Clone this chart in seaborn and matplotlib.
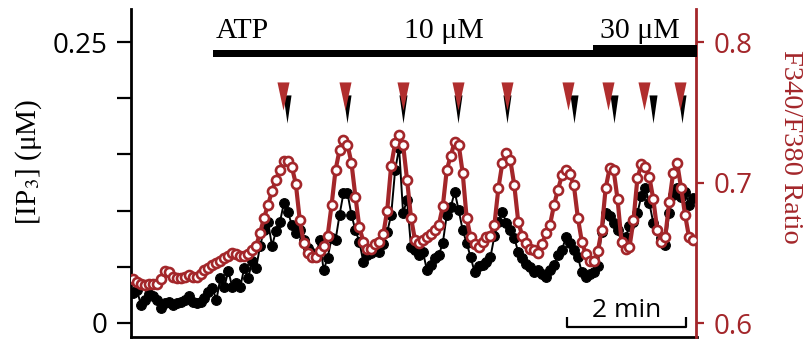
import numpy as np
import pandas as pd
import matplotlib
matplotlib.use("Agg")
import matplotlib.pyplot as plt
import seaborn as sns
from matplotlib.patches import Rectangle

# ---------------- data ----------------
dt_s = 4.0
ratio_f340_f380 = [
    0.631, 0.629, 0.628, 0.627, 0.628, 0.628, 0.628, 0.631, 0.637, 0.636,
    0.633, 0.632, 0.632, 0.633, 0.634, 0.633, 0.633, 0.635, 0.638, 0.639,
    0.641, 0.643, 0.644, 0.646, 0.648, 0.650, 0.649, 0.648, 0.648, 0.649,
    0.652, 0.655, 0.664, 0.675, 0.684, 0.694, 0.702, 0.709, 0.715, 0.715,
    0.711, 0.699, 0.673, 0.657, 0.650, 0.647, 0.647, 0.651, 0.655, 0.662,
    0.684, 0.709, 0.723, 0.730, 0.727, 0.714, 0.690, 0.668, 0.658, 0.653,
    0.653, 0.656, 0.658, 0.663, 0.680, 0.712, 0.728, 0.734, 0.727, 0.702,
    0.675, 0.659, 0.657, 0.659, 0.661, 0.663, 0.666, 0.670, 0.683, 0.709,
    0.719, 0.729, 0.727, 0.707, 0.675, 0.661, 0.656, 0.654, 0.658, 0.661,
    0.662, 0.670, 0.696, 0.714, 0.721, 0.716, 0.698, 0.672, 0.662, 0.657,
    0.653, 0.652, 0.650, 0.656, 0.664, 0.670, 0.684, 0.695, 0.705, 0.709,
    0.706, 0.698, 0.675, 0.658, 0.649, 0.644, 0.644, 0.651, 0.666, 0.696,
    0.710, 0.709, 0.688, 0.658, 0.653, 0.654, 0.673, 0.703, 0.713, 0.711,
    0.704, 0.688, 0.666, 0.658, 0.661, 0.686, 0.707, 0.714, 0.696, 0.677,
    0.661, 0.659,
]
ip3_uM = [
    0.0267, 0.0294, 0.0160, 0.0205, 0.0258, 0.0240, 0.0205, 0.0133, 0.0178, 0.0187,
    0.0160, 0.0178, 0.0187, 0.0205, 0.0240, 0.0187, 0.0178, 0.0187, 0.0222, 0.0276,
    0.0311, 0.0205, 0.0400, 0.0320, 0.0463, 0.0320, 0.0356, 0.0320, 0.0489, 0.0400,
    0.0552, 0.0489, 0.0685, 0.0827, 0.0899, 0.0685, 0.0819, 0.0899, 0.1068, 0.0988,
    0.0872, 0.0801, 0.0827, 0.0738, 0.0667, 0.0623, 0.0587, 0.0738, 0.0472, 0.0578,
    0.0756, 0.0738, 0.0961, 0.1157, 0.1157, 0.0961, 0.0827, 0.0721, 0.0543, 0.0605,
    0.0623, 0.0667, 0.0632, 0.0703, 0.0810, 0.0961, 0.1361, 0.1557, 0.0979, 0.1094,
    0.0676, 0.0649, 0.0605, 0.0632, 0.0472, 0.0516, 0.0578, 0.0605, 0.0712, 0.0961,
    0.1032, 0.1165, 0.1005, 0.0827, 0.0712, 0.0587, 0.0454, 0.0507, 0.0516, 0.0543,
    0.0587, 0.0774, 0.0899, 0.0988, 0.0890, 0.0827, 0.0756, 0.0632, 0.0578, 0.0525,
    0.0498, 0.0454, 0.0472, 0.0436, 0.0409, 0.0472, 0.0516, 0.0605, 0.0649, 0.0765,
    0.0712, 0.0649, 0.0587, 0.0454, 0.0409, 0.0436, 0.0454, 0.0507, 0.0810, 0.0979,
    0.0952, 0.0890, 0.0827, 0.0721, 0.0765, 0.0863, 0.0899, 0.0979, 0.1130, 0.1201,
    0.1068, 0.0890, 0.0827, 0.0756, 0.0694, 0.0979, 0.1139, 0.1201, 0.1121, 0.1165,
    0.1050, 0.1112,
]
time_s = np.arange(len(ratio_f340_f380)) * dt_s

ratio_peak_times_s = [151, 214, 272, 327, 377, 438, 478, 515, 551]
ip3_peak_times_s = [155, 216, 272, 327, 377, 444, 484, 524, 553]

atp_start_s = 81
atp_step_s = 463
scale_bar_start_s = 437
scale_bar_len_s = 120

left_ticks = [0, 0.05, 0.10, 0.15, 0.20, 0.25]
left_ticklabels = ["0", "", "", "", "", "0.25"]
right_ticks = [0.6, 0.7, 0.8]
right_ticklabels = ["0.6", "0.7", "0.8"]

df = pd.DataFrame({"t": time_s, "ratio": ratio_f340_f380, "ip3": ip3_uM})

# ---------------- style ----------------
sns.set_theme(style="white")
plt.rcParams["font.family"] = ["Open Sans", "DejaVu Sans"]
plt.rcParams["mathtext.fontset"] = "stix"

RED = "#A3262A"
SERIF = ["Liberation Serif", "DejaVu Serif"]

W, H = 809, 341
fig = plt.figure(figsize=(W / 100, H / 100), dpi=100)
ax_l, ax_r, ax_t, ax_b = 131, 696.5, 9, 337
ax = fig.add_axes([ax_l / W, 1 - ax_b / H, (ax_r - ax_l) / W, (ax_b - ax_t) / H])
ax.patch.set_alpha(0)
ax2 = ax.twinx()

# IP3 trace (black filled circles)
sns.lineplot(data=df, x="t", y="ip3", ax=ax, color="black", linewidth=1.4,
             marker="o", markersize=7, markeredgecolor="black",
             markerfacecolor="black", markeredgewidth=0.8, zorder=3)
# ratio trace (red open circles)
sns.lineplot(data=df, x="t", y="ratio", ax=ax2, color=RED, linewidth=3.0,
             marker="o", markersize=6.5, markeredgecolor=RED,
             markerfacecolor="white", markeredgewidth=1.9, zorder=3)

ax.set_xlim(-2, 567.5)
ax.set_ylim(-0.01246, 0.2794)
ax2.set_ylim(0.59004, 0.82349)

ax.set_xlabel("")
ax.set_ylabel("")
ax2.set_ylabel("")
ax.set_xticks([])

ax.set_yticks(left_ticks)
ax.set_yticklabels(left_ticklabels)
ax.tick_params(axis="y", direction="out", length=10, width=1.6, pad=7,
               labelsize=20, colors="black", left=True)
ax2.set_yticks(right_ticks)
ax2.set_yticklabels(right_ticklabels)
ax2.tick_params(axis="y", direction="out", length=6, width=1.6, pad=6,
                labelsize=20, colors=RED, right=True)

for s in ["top", "right"]:
    ax.spines[s].set_visible(False)
for s in ["top", "left", "bottom"]:
    ax2.spines[s].set_visible(False)
ax.spines["left"].set_linewidth(2)
ax.spines["left"].set_color("black")
ax.spines["bottom"].set_linewidth(2)
ax.spines["bottom"].set_color("black")
ax2.spines["right"].set_linewidth(2)
ax2.spines["right"].set_color(RED)

# peak arrowheads
red_tri = [(-6, 14), (6, 14), (0, -14)]
blk_tri = [(-4, 14), (4, 14), (0, -14)]
ax2.scatter(ip3_peak_times_s, [0.7523] * len(ip3_peak_times_s), marker=blk_tri,
            s=410, color="black", linewidths=0, zorder=5, clip_on=False)
ax2.scatter(ratio_peak_times_s, [0.7616] * len(ratio_peak_times_s), marker=red_tri,
            s=410, color="#B02E2E", linewidths=0, zorder=6, clip_on=False)

# ATP application bar
ax2.add_patch(Rectangle((atp_start_s, 0.7893), 567.5 - atp_start_s, 0.0050,
                        color="black", lw=0, zorder=4, clip_on=False))
ax2.add_patch(Rectangle((atp_step_s, 0.7893), 567.5 - atp_step_s, 0.0086,
                        color="black", lw=0, zorder=4, clip_on=False))
ax2.text(atp_start_s + 2, 0.8025, "ATP", family=SERIF, fontsize=21.5,
         ha="left", va="baseline", color="black")
ax2.text(313, 0.8025, "10 μM", family=SERIF, fontsize=21.5,
         ha="center", va="baseline", color="black")
ax2.text(510, 0.8025, "30 μM", family=SERIF, fontsize=21.5,
         ha="center", va="baseline", color="black")

# time scale bar
x0, x1 = scale_bar_start_s, scale_bar_start_s + scale_bar_len_s
ax.plot([x0, x0, x1, x1], [0.0053, -0.0036, -0.0036, 0.0053], color="black",
        lw=1.6, solid_capstyle="butt", clip_on=False, zorder=4)
ax.text((x0 + x1) / 2, 0.0050, "2 min", fontsize=19, ha="center",
        va="baseline", color="black")

# axis labels
fig.text(29 / W, 1 - 162 / H, "[IP$_3$] (μM)", family=SERIF, fontsize=21,
         rotation=90, ha="center", va="center", color="black")
fig.text(791 / W, 1 - 147 / H, "F340/F380 Ratio", family=SERIF, fontsize=20.5,
         rotation=270, ha="center", va="center", color=RED)

fig.savefig("out.png", dpi=100)
